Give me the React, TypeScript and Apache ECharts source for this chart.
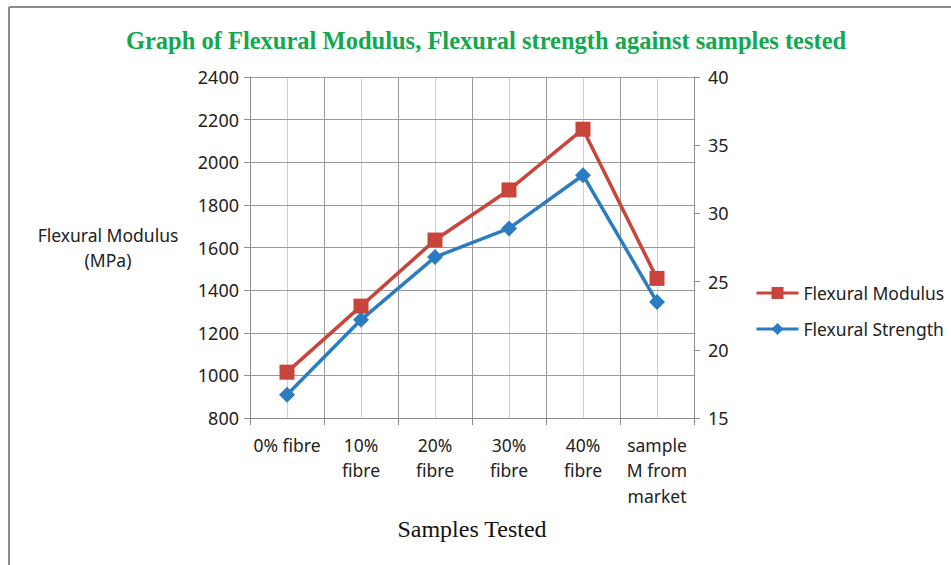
import React, { useEffect, useRef } from "react";
import * as echarts from "echarts";

const categories = ["0% fibre", "10%\nfibre", "20%\nfibre", "30%\nfibre", "40%\nfibre", "sample\nM from\nmarket"];
const flexuralModulus = [1015, 1325, 1635, 1870, 2155, 1455];
const flexuralStrength = [16.7, 22.2, 26.8, 28.9, 32.8, 23.5];
const titleText = "Graph of Flexural Modulus, Flexural strength against samples tested";

const RED = "#c9453b";
const BLUE = "#2b7cc1";
const FONT = "'Noto Sans', 'Open Sans', sans-serif";

export default function App() {
  const ref = useRef<HTMLDivElement>(null);
  useEffect(() => {
    if (!ref.current) return;
    const chart = echarts.init(ref.current, undefined, { renderer: "svg" });
    chart.setOption({
      animation: false,
      backgroundColor: "#ffffff",
      title: {
        text: titleText,
        left: 481,
        textAlign: "center",
        top: 23,
        textStyle: {
          fontFamily: "'Liberation Serif', 'Times New Roman', serif",
          fontWeight: "bold",
          fontSize: 24.5,
          color: "#13a84f",
        },
      },
      graphic: [
        { type: "line", shape: { x1: 9, y1: 7, x2: 951, y2: 7 }, style: { stroke: "#8a8a8a", lineWidth: 2 } },
        { type: "line", shape: { x1: 9, y1: 7, x2: 9, y2: 565 }, style: { stroke: "#8a8a8a", lineWidth: 2 } },
      ],
      legend: {
        orient: "vertical",
        left: 755,
        top: 284,
        padding: 0,
        itemWidth: 42,
        itemHeight: 15,
        itemGap: 18,
        lineStyle: { width: 3 },
        textStyle: { fontFamily: FONT, fontSize: 17.5, color: "#222" },
        data: ["Flexural Modulus", "Flexural Strength"],
      },
      grid: { left: 250, right: 257, top: 77, bottom: 147, containLabel: false },
      xAxis: [
        {
          type: "category",
          data: categories,
          boundaryGap: true,
          z: 3,
          name: "Samples Tested",
          nameLocation: "middle",
          nameGap: 99,
          nameTextStyle: {
            fontFamily: "'Liberation Serif', 'Times New Roman', serif",
            fontSize: 24,
            color: "#111",
          },
          axisLine: { show: true, lineStyle: { color: "#8c8c8c", width: 1 } },
          axisTick: { show: true, length: 7, alignWithLabel: false, lineStyle: { color: "#8c8c8c" } },
          axisLabel: {
            interval: 0,
            margin: 14,
            fontFamily: FONT,
            fontSize: 17.5,
            lineHeight: 25.5,
            color: "#222",
          },
          splitLine: { show: true, interval: 0, lineStyle: { color: "#9a9a9a", width: 1 } },
        },
        {
          type: "value",
          min: 0,
          max: 12,
          interval: 1,
          show: true,
          z: 1,
          axisLine: { show: false },
          axisTick: { show: false },
          axisLabel: { show: false },
          splitLine: { show: true, lineStyle: { color: "#cfcfcf", width: 1 } },
        },
      ],
      yAxis: [
        {
          type: "value",
          min: 800,
          max: 2400,
          interval: 200,
          position: "left",
          z: 3,
          name: "Flexural Modulus\n(MPa)",
          nameLocation: "middle",
          nameRotate: 0,
          nameGap: 142,
          nameTextStyle: {
            fontFamily: FONT,
            fontSize: 17.5,
            lineHeight: 25,
            color: "#222",
            align: "center",
          },
          axisLine: { show: true, lineStyle: { color: "#8c8c8c" } },
          axisTick: { show: true, length: 6, lineStyle: { color: "#8c8c8c" } },
          axisLabel: {
            fontFamily: FONT,
            fontSize: 18,
            color: "#222",
            margin: 11,
            formatter: (v: number) => String(v),
          },
          splitLine: { show: true, lineStyle: { color: "#9a9a9a", width: 1 } },
        },
        {
          type: "value",
          min: 15,
          max: 40,
          interval: 5,
          position: "right",
          z: 3,
          axisLine: { show: true, lineStyle: { color: "#8c8c8c" } },
          axisTick: { show: true, length: 6, lineStyle: { color: "#8c8c8c" } },
          axisLabel: {
            fontFamily: FONT,
            fontSize: 18,
            color: "#222",
            margin: 14,
            formatter: (v: number) => String(v),
          },
          splitLine: { show: false },
        },
      ],
      series: [
        {
          name: "Flexural Modulus",
          type: "line",
          xAxisIndex: 0,
          yAxisIndex: 0,
          data: flexuralModulus,
          symbol: "rect",
          symbolSize: 15,
          z: 5,
          lineStyle: { color: RED, width: 3.5 },
          itemStyle: { color: RED },
        },
        {
          name: "Flexural Strength",
          type: "line",
          xAxisIndex: 0,
          yAxisIndex: 1,
          data: flexuralStrength,
          symbol: "diamond",
          symbolSize: 16,
          z: 5,
          lineStyle: { color: BLUE, width: 3.5 },
          itemStyle: { color: BLUE },
        },
      ],
    });
    return () => chart.dispose();
  }, []);
  return (
    <div
      ref={ref}
      style={{ position: "fixed", left: 0, top: 0, width: 951, height: 565 }}
    />
  );
}
